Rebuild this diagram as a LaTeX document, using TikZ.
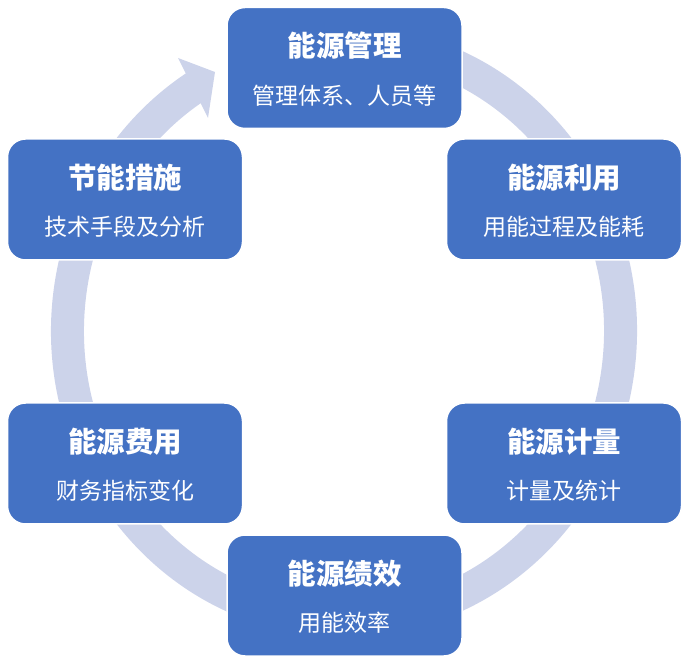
\documentclass[tikz,border=0pt]{standalone}
\usepackage{fontspec}
\newfontfamily\cjk{Noto Sans CJK SC}
\definecolor{boxblue}{HTML}{4472C4}
\definecolor{ringc}{HTML}{CCD3EA}
\begin{document}
\begin{tikzpicture}[x=1pt,y=1pt,
  box/.style={draw=white, line width=1.5pt, fill=boxblue, rounded corners=18pt,
    minimum width=235pt, minimum height=121pt, inner sep=0pt},
  ttl/.style={text=white, font=\cjk\bfseries\fontsize{28.5}{30}\selectfont, inner sep=0pt},
  sub/.style={text=white, font=\cjk\fontsize{23}{25}\selectfont, inner sep=0pt}]
\useasboundingbox (0,0) rectangle (684,666);
% ring arrow
\draw[ringc, line width=33pt] ({344+276.5*cos(80)},{335+289.5*sin(80)})
  arc[start angle=80, end angle=-238, x radius=276.5, y radius=289.5];
\fill[ringc] (178,608) -- (215,594) -- (208,548) -- cycle;
% boxes
\node[box] (b1) at (344.5,598) {};
\node[box] (b2) at (564,466.5) {};
\node[box] (b3) at (564,202.5) {};
\node[box] (b4) at (344.5,70.5) {};
\node[box] (b5) at (125,202.5) {};
\node[box] (b6) at (125,466.5) {};
% texts
\node[ttl] (t1) at ([yshift=22pt]b1.center) {能源管理};
\node[sub] (s1) at ([yshift=-27.5pt]b1.center) {管理体系、人员等};
\node[ttl] (t2) at ([yshift=22pt]b2.center) {能源利用};
\node[sub] (s2) at ([yshift=-27.5pt]b2.center) {用能过程及能耗};
\node[ttl] (t3) at ([yshift=22pt]b3.center) {能源计量};
\node[sub] (s3) at ([yshift=-27.5pt]b3.center) {计量及统计};
\node[ttl] (t4) at ([yshift=22pt]b4.center) {能源绩效};
\node[sub] (s4) at ([yshift=-27.5pt]b4.center) {用能效率};
\node[ttl] (t5) at ([yshift=22pt]b5.center) {能源费用};
\node[sub] (s5) at ([yshift=-27.5pt]b5.center) {财务指标变化};
\node[ttl] (t6) at ([yshift=22pt]b6.center) {节能措施};
\node[sub] (s6) at ([yshift=-27.5pt]b6.center) {技术手段及分析};
\end{tikzpicture}
\end{document}
